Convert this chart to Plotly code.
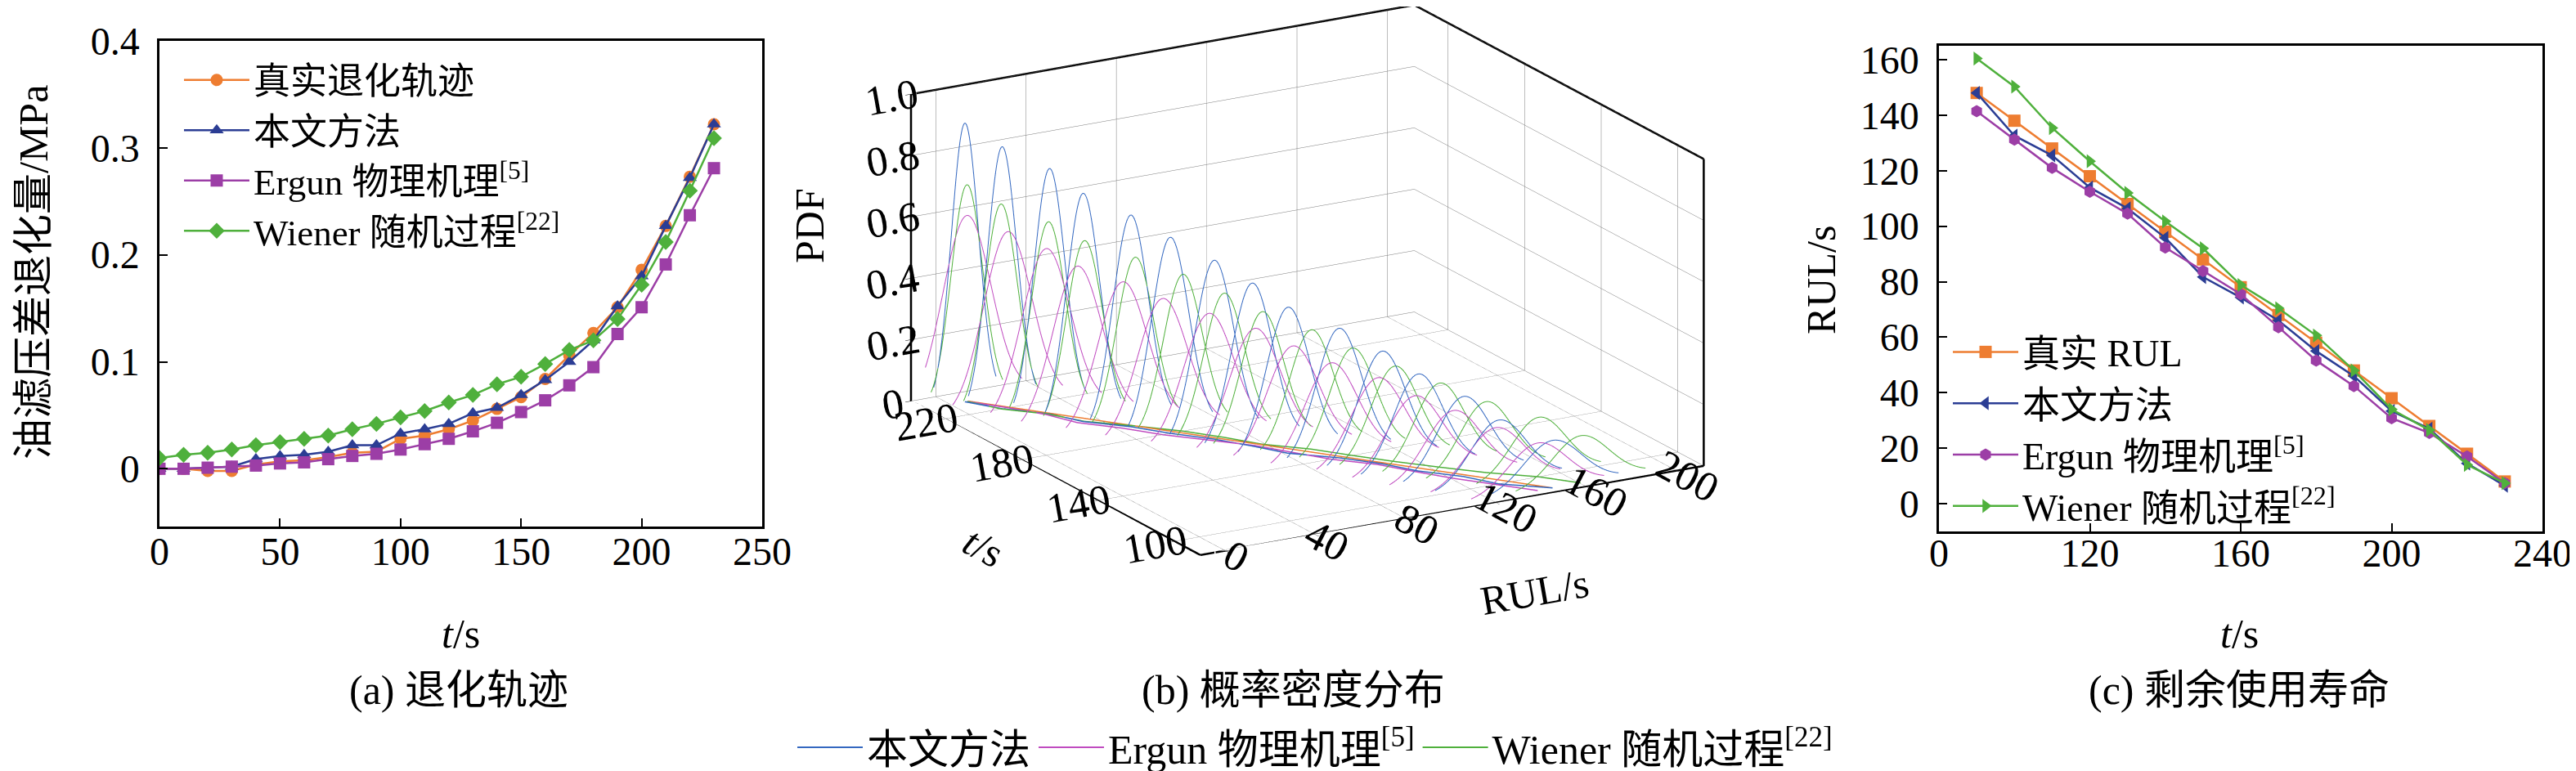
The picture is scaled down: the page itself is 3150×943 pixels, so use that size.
import numpy as np
import plotly.graph_objects as go

# ---- (a) degradation trajectory ----
t_deg = [0, 10, 20, 30, 40, 50, 60, 70, 80, 90, 100, 110, 120, 130, 140, 150,
         160, 170, 180, 190, 200, 210, 220, 230]
deg_true = [0.000, 0.000, -0.002, -0.002, 0.004, 0.007, 0.008, 0.011, 0.015, 0.016,
            0.028, 0.031, 0.037, 0.045, 0.056, 0.067, 0.084, 0.106, 0.127, 0.151,
            0.186, 0.227, 0.273, 0.322]
deg_ours = [0.000, 0.000, 0.001, 0.002, 0.009, 0.012, 0.013, 0.016, 0.022, 0.022,
            0.033, 0.037, 0.042, 0.052, 0.057, 0.069, 0.083, 0.100, 0.120, 0.152,
            0.180, 0.227, 0.272, 0.322]
deg_ergun = [0.000, 0.000, 0.001, 0.002, 0.003, 0.005, 0.006, 0.009, 0.012, 0.014,
             0.018, 0.023, 0.028, 0.035, 0.043, 0.053, 0.064, 0.078, 0.095, 0.126,
             0.151, 0.191, 0.237, 0.281]
deg_wiener = [0.010, 0.013, 0.015, 0.018, 0.022, 0.025, 0.028, 0.031, 0.037, 0.042,
              0.048, 0.054, 0.062, 0.069, 0.079, 0.086, 0.098, 0.111, 0.120, 0.140,
              0.172, 0.212, 0.260, 0.309]

# ---- (c) remaining useful life ----
t_rul = [90, 100, 110, 120, 130, 140, 150, 160, 170, 180, 190, 200, 210, 220, 230]
rul_true = [148, 138, 128, 118, 108, 98, 88, 78, 68, 58, 48, 38, 28, 18, 8]
rul_ours = [148, 132.6, 125.5, 113.9, 106.4, 95.8, 81.7, 74.3, 66, 55, 46, 33.4, 27, 14.5, 6.5]
rul_ergun = [141.4, 131.2, 121, 112.4, 104.5, 92.3, 83.8, 75.5, 63.6, 51.6, 42.4, 30.8,
             25.5, 17, 7.4]
rul_wiener = [160.4, 150.3, 135.4, 123.4, 112, 101.7, 92, 78.8, 70.4, 60.6, 48, 34,
              26.5, 14, 7.4]

# ---- (b) PDF peak height and spread of each curve (same t order) ----
pdf_peak_ours = [0.155, 0.208, 0.261, 0.316, 0.367, 0.422, 0.476, 0.531, 0.583, 0.639,
                 0.690, 0.744, 0.800, 0.854, 0.908]
pdf_peak_ergun = [0.155, 0.185, 0.221, 0.247, 0.283, 0.314, 0.347, 0.382, 0.413, 0.444,
                  0.477, 0.510, 0.541, 0.574, 0.606]
pdf_peak_wiener = [0.154, 0.194, 0.231, 0.274, 0.311, 0.350, 0.389, 0.432, 0.470, 0.511,
                   0.550, 0.589, 0.627, 0.668, 0.706]
pdf_sd_ours = [12.7, 12.2, 11.6, 11.0, 10.6, 10.0, 9.6, 9.1, 8.6, 8.2, 7.8, 7.3, 6.9, 6.5, 6.0]
pdf_sd_ergun = [12.8, 12.5, 12.3, 12.0, 11.8, 11.6, 11.4, 11.2, 11.1, 11.0, 10.9, 10.8,
                10.7, 10.6, 10.6]
pdf_sd_wiener = [12.5, 12.0, 11.5, 11.0, 10.6, 10.2, 9.8, 9.4, 9.0, 8.6, 8.2, 7.9, 7.5,
                 7.2, 6.9]

# axis ranges of the 3-D panel
rul_range = [-11, 212]
t_range = [86.5, 237.5]
pdf_range = [0, 1]

names = ["真实退化轨迹", "本文方法", "Ergun 物理机理<sup>[5]</sup>",
         "Wiener 随机过程<sup>[22]</sup>"]
names_c = ["真实 RUL", "本文方法", "Ergun 物理机理<sup>[5]</sup>",
           "Wiener 随机过程<sup>[22]</sup>"]
colors = ["#ee7d31", "#2b3d94", "#9c3ea6", "#4fb03c"]
curve_colors = ["#3468c0", "#c04cc0", "#4fb03c"]

FONT = "Liberation Serif, 'Noto Sans CJK SC'"
W, H = 3150, 943

fig = go.Figure()

# (a)
for y, nm, c, sym in zip([deg_true, deg_ours, deg_ergun, deg_wiener], names, colors,
                         ["circle", "triangle-up", "square", "diamond"]):
    fig.add_trace(go.Scatter(x=t_deg, y=y, name=nm, mode="lines+markers",
                             line=dict(color=c, width=2.5),
                             marker=dict(symbol=sym, size=15, color=c),
                             xaxis="x", yaxis="y", legend="legend2"))

# (c)
for y, nm, c, sym in zip([rul_true, rul_ours, rul_ergun, rul_wiener], names_c, colors,
                         ["square", "triangle-left", "hexagon", "triangle-right"]):
    fig.add_trace(go.Scatter(x=t_rul, y=y, name=nm, mode="lines+markers",
                             line=dict(color=c, width=2.5),
                             marker=dict(symbol=sym, size=15, color=c),
                             xaxis="x3", yaxis="y3", legend="legend3"))


# (b) PDF curves, one trace per method
def pdf_curves(means, peaks, sds):
    xs, ys, zs = [], [], []
    for t, m, p, s in zip(t_rul, means, peaks, sds):
        r = np.linspace(m - 2.3 * s, m + 2.3 * s, 60)
        xs += list(r) + [None]
        ys += [t] * 60 + [None]
        zs += list(p * np.exp(-(r - m) ** 2 / (2 * s ** 2))) + [None]
    return xs, ys, zs


for means, peaks, sds, nm, c in zip([rul_ours, rul_ergun, rul_wiener],
                                    [pdf_peak_ours, pdf_peak_ergun, pdf_peak_wiener],
                                    [pdf_sd_ours, pdf_sd_ergun, pdf_sd_wiener],
                                    names[1:], curve_colors):
    xs, ys, zs = pdf_curves(means, peaks, sds)
    fig.add_trace(go.Scatter3d(x=xs, y=ys, z=zs, mode="lines", name=nm,
                               line=dict(color=c, width=2), connectgaps=False,
                               scene="scene", legend="legend"))

# RUL trajectories on the floor
for means, c in zip([rul_true, rul_ours, rul_ergun, rul_wiener],
                    ["#ee7d31", "#3468c0", "#c04cc0", "#4fb03c"]):
    fig.add_trace(go.Scatter3d(x=means, y=t_rul, z=[0] * len(t_rul), mode="lines",
                               line=dict(color=c, width=3), showlegend=False,
                               scene="scene"))

# black frame edges of the 3-D box (taken from the axis ranges)
x0, x1 = rul_range
y0, y1 = t_range
z0, z1 = pdf_range
edges = [((x0, x0), (y0, y1), (z0, z0)), ((x0, x1), (y0, y0), (z0, z0)),
         ((x0, x0), (y1, y1), (z0, z1)), ((x0, x1), (y1, y1), (z1, z1)),
         ((x1, x1), (y0, y0), (z0, z1)), ((x1, x1), (y0, y1), (z1, z1))]
ex, ey, ez = [], [], []
for a, b, c in edges:
    ex += list(a) + [None]
    ey += list(b) + [None]
    ez += list(c) + [None]
fig.add_trace(go.Scatter3d(x=ex, y=ey, z=ez, mode="lines", connectgaps=False,
                           line=dict(color="black", width=5), showlegend=False,
                           hoverinfo="skip", scene="scene"))

axis_common = dict(showline=True, linecolor="black", linewidth=2.5, mirror=True,
                   ticks="inside", ticklen=10, tickwidth=2, tickcolor="black",
                   showgrid=False, zeroline=False, automargin=False,
                   tickfont=dict(family=FONT, size=48, color="black"))

fig.update_layout(
    width=W, height=H, margin=dict(l=0, r=0, t=0, b=0, autoexpand=False),
    paper_bgcolor="white", plot_bgcolor="white",
    font=dict(family=FONT, size=48, color="black"),
    xaxis=dict(domain=[187 / W, 924 / W], range=[0, 250], tickvals=[0, 50, 100, 150, 200, 250],
               anchor="y", ticklabelstandoff=-13, **axis_common),
    yaxis=dict(domain=[1 - 636 / H, 1 - 42 / H], range=[-0.054, 0.4],
               tickvals=[0, 0.1, 0.2, 0.3, 0.4], ticktext=["0", "0.1", "0.2", "0.3", "0.4"],
               anchor="x", ticklabelstandoff=12, **axis_common),
    xaxis3=dict(domain=[2363 / W, 3101 / W], range=[80, 240],
                tickvals=[80, 120, 160, 200, 240], ticktext=["0", "120", "160", "200", "240"],
                anchor="y3", ticklabelstandoff=-17, **axis_common),
    yaxis3=dict(domain=[1 - 642 / H, 1 - 48 / H], range=[-10, 165],
                tickvals=[0, 20, 40, 60, 80, 100, 120, 140, 160], anchor="x3",
                ticklabelstandoff=12, **axis_common),
    legend2=dict(x=212 / W, y=1 - 54 / H, xanchor="left", yanchor="top", itemwidth=80,
                 bgcolor="rgba(0,0,0,0)", font=dict(family=FONT, size=45)),
    legend3=dict(x=2375 / W, y=1 - 386 / H, xanchor="left", yanchor="top", itemwidth=80,
                 bgcolor="rgba(0,0,0,0)", font=dict(family=FONT, size=46)),
    legend=dict(orientation="h", x=1600 / W, y=1 - 906 / H, xanchor="center", itemwidth=80,
                yanchor="middle", bgcolor="rgba(0,0,0,0)", font=dict(family=FONT, size=50)),
)

d = np.array([-0.4756, -0.8243, 0.307])
cen = np.array([0.0393, -0.0651, -0.1139])
eye = cen + d * 2.0
k = 1.87
scene_axis = dict(showbackground=False, showspikes=False, zeroline=False,
                  showgrid=True, gridcolor="#7a7a7a", gridwidth=1,
                  showline=False, ticks="outside", ticklen=8, tickcolor="black",
                  tickfont=dict(family=FONT, size=25, color="black"), title=dict(text=""))
fig.update_layout(scene=dict(
    domain=dict(x=[1016 / W, 2216 / W], y=[1 - 760 / H, 1]),
    xaxis=dict(range=rul_range, tickvals=[0, 40, 80, 120, 160, 200], **scene_axis),
    yaxis=dict(range=t_range, tickvals=[100, 140, 180, 220], **scene_axis),
    zaxis=dict(range=pdf_range, tickvals=[0, 0.2, 0.4, 0.6, 0.8, 1.0],
               ticktext=["0", "0.2", "0.4", "0.6", "0.8", "1.0"], **scene_axis),
    aspectmode="manual", aspectratio=dict(x=1 * k, y=0.9965 * k, z=0.555 * k),
    camera=dict(eye=dict(x=eye[0], y=eye[1], z=eye[2]),
                center=dict(x=cen[0], y=cen[1], z=cen[2]),
                up=dict(x=0, y=0, z=1), projection=dict(type="orthographic")),
    bgcolor="rgba(0,0,0,0)",
))

ann = [
    dict(x=33, y=325, text="油滤压差退化量/MPa", textangle=-90),
    dict(x=555, y=767, text="<i>t</i>/s"),
    dict(x=553, y=836, text="(a) 退化轨迹"),
    dict(x=982, y=268, text="PDF", textangle=-90),
    dict(x=1194, y=661, text="<i>t</i>/s", textangle=28),
    dict(x=1868, y=716, text="RUL/s", textangle=-10),
    dict(x=1573, y=836, text="(b) 概率密度分布"),
    dict(x=2219, y=335, text="RUL/s", textangle=-90),
    dict(x=2730, y=767, text="<i>t</i>/s"),
    dict(x=2730, y=836, text="(c) 剩余使用寿命"),
]
for a in ann:
    fig.add_annotation(x=a["x"] / W, y=1 - a["y"] / H, xref="paper", yref="paper",
                       text=a["text"], textangle=a.get("textangle", 0), showarrow=False,
                       xanchor="center", yanchor="middle",
                       font=dict(family=FONT, size=50, color="black"))

fig.write_html("out.html")
